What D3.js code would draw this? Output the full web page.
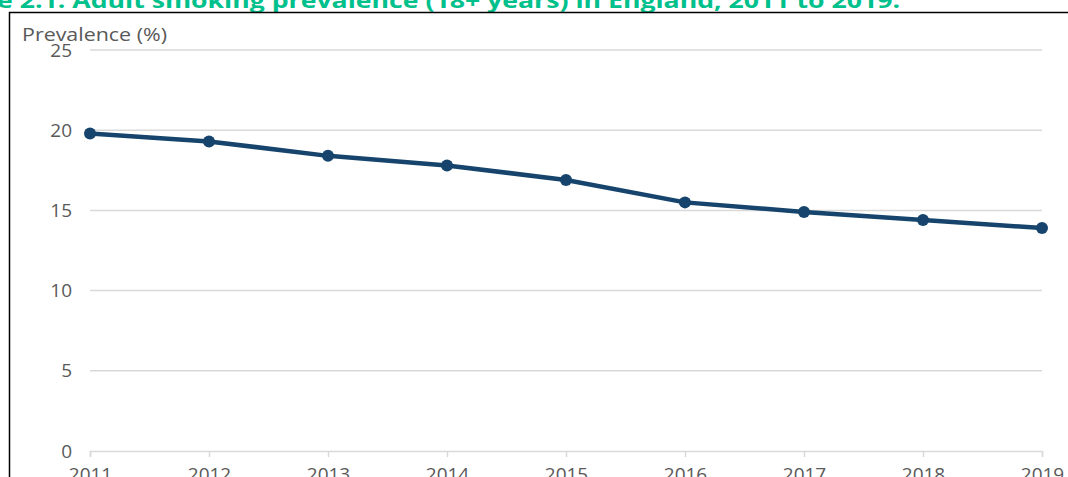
<!DOCTYPE html>
<html>
<head>
<meta charset="utf-8">
<script src="https://cdn.jsdelivr.net/npm/d3@7"></script>
<style>
  html, body { margin: 0; padding: 0; background: #fff; overflow: hidden; }
  .canvas { width: 1068px; height: 477px; }
  text { font-family: "Open Sans", "Noto Sans", sans-serif; }
</style>
</head>
<body>
<div class="canvas"></div>
<script>
const years = ['2011', '2012', '2013', '2014', '2015', '2016', '2017', '2018', '2019'];
const prevalence = [19.8, 19.3, 18.4, 17.8, 16.9, 15.5, 14.9, 14.4, 13.9];
const yTicks = [0, 5, 10, 15, 20, 25];
const titleText = 'e 2.1: Adult smoking prevalence (18+ years) in England, 2011 to 2019.';
const yLabel = 'Prevalence (%)';

const width = 1068;
const height = 477;
const margin = { top: 50, right: 26, bottom: 26, left: 90 };

const svg = d3
  .select('.canvas')
  .append('svg')
  .attr('width', width)
  .attr('height', height);

const x = d3
  .scalePoint()
  .domain(years)
  .range([margin.left, width - margin.right]);

const y = d3
  .scaleLinear()
  .domain([0, 25])
  .range([height - margin.bottom, margin.top]);

// title, cut off at the top like the source
svg
  .append('text')
  .attr('x', -3)
  .attr('y', 8)
  .attr('fill', '#00c08b')
  .attr('font-weight', 'bold')
  .attr('font-size', 22)
  .attr('textLength', 903)
  .attr('lengthAdjust', 'spacingAndGlyphs')
  .text(titleText);

// frame
svg
  .append('path')
  .attr('d', `M9.5,${height} V12.5 H${width}`)
  .attr('fill', 'none')
  .attr('stroke', '#000')
  .attr('stroke-width', 1.5);

// gridlines
svg
  .append('g')
  .selectAll('line')
  .data(yTicks.filter(d => d > 0))
  .join('line')
  .attr('x1', margin.left)
  .attr('x2', width - margin.right)
  .attr('y1', d => y(d))
  .attr('y2', d => y(d))
  .attr('stroke', '#d9d9d9')
  .attr('stroke-width', 1.5);

// y axis labels
svg
  .append('g')
  .selectAll('text')
  .data(yTicks)
  .join('text')
  .attr('x', 72)
  .attr('y', d => y(d) + 6.5)
  .attr('text-anchor', 'end')
  .attr('fill', '#595959')
  .attr('font-size', 19)
  .text(d => d);

svg
  .append('text')
  .attr('x', 22)
  .attr('y', 41)
  .attr('fill', '#595959')
  .attr('font-size', 18)
  .attr('textLength', 145)
  .attr('lengthAdjust', 'spacingAndGlyphs')
  .text(yLabel);

// x axis
const xAxis = svg
  .append('g')
  .attr('transform', `translate(0,${y(0)})`)
  .call(d3.axisBottom(x).tickSize(6).tickPadding(11))
  .call(g => g.select('.domain').attr('stroke', '#d9d9d9').attr('stroke-width', 1.5));

xAxis.selectAll('.tick line').attr('stroke', '#d9d9d9').attr('stroke-width', 1.5);
xAxis
  .selectAll('.tick text')
  .attr('fill', '#595959')
  .attr('font-size', 19)
  .attr('font-family', '"Open Sans", "Noto Sans", sans-serif');

// series
const points = years.map((yr, i) => ({ year: yr, value: prevalence[i] }));

const line = d3
  .line()
  .x(d => x(d.year))
  .y(d => y(d.value));

svg
  .append('path')
  .datum(points)
  .attr('d', line)
  .attr('fill', 'none')
  .attr('stroke', '#16446c')
  .attr('stroke-width', 4.5)
  .attr('stroke-linejoin', 'round');

svg
  .append('g')
  .selectAll('circle')
  .data(points)
  .join('circle')
  .attr('cx', d => x(d.year))
  .attr('cy', d => y(d.value))
  .attr('r', 6)
  .attr('fill', '#16446c');
</script>
</body>
</html>
